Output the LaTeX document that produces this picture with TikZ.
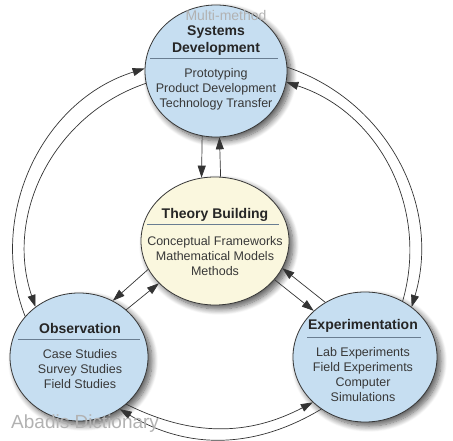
\documentclass[tikz,border=0pt]{standalone}
\usepackage{fontspec}
\setmainfont{Liberation Sans}
\usetikzlibrary{arrows.meta,shapes.geometric,shadows.blur}
\definecolor{cblue}{RGB}{198,222,241}
\definecolor{cyel}{RGB}{250,247,222}
\definecolor{cedge}{RGB}{55,55,55}
\definecolor{csep}{RGB}{105,125,145}
\begin{document}
\begin{tikzpicture}[x=1pt,y=1pt,
  bub/.style={ellipse, draw=cedge, line width=0.8pt, inner sep=0pt,
    blur shadow={shadow xshift=4pt,shadow yshift=-4pt,shadow blur steps=10,shadow opacity=65,shadow blur radius=6pt}},
  ttl/.style={font=\fontsize{14}{17}\selectfont\bfseries, text=black!85, align=center, inner sep=0pt},
  bdy/.style={font=\fontsize{12.5}{15}\selectfont, text=black!78, align=center, inner sep=0pt},
  sepline/.style={draw=csep, line width=0.8pt},
  con/.style={draw=black!80, line width=0.7pt, -{Triangle[length=12pt,width=8pt]}},
  wmark/.style={text=black!30, inner sep=0pt}
]
\useasboundingbox (0,0) rectangle (453,-441);

% bubbles
\node[bub, fill=cblue, minimum width=142pt, minimum height=132pt] (sys) at (216,-71) {};
\node[bub, fill=cyel, minimum width=148pt, minimum height=128pt] (thy) at (215,-241) {};
\node[bub, fill=cblue, minimum width=138pt, minimum height=128pt] (obs) at (79,-357) {};
\node[bub, fill=cblue, minimum width=144pt, minimum height=130pt] (exp) at (365,-357) {};

% separators
\draw[sepline] ([xshift=-66pt,yshift=13pt]sys.center) -- ([xshift=62pt,yshift=13pt]sys.center);
\draw[sepline] ([xshift=-68pt,yshift=17pt]thy.center) -- ([xshift=64pt,yshift=17pt]thy.center);
\draw[sepline] ([xshift=-61pt,yshift=18pt]obs.center) -- ([xshift=61pt,yshift=18pt]obs.center);
\draw[sepline] ([xshift=-58pt,yshift=20pt]exp.center) -- ([xshift=56pt,yshift=20pt]exp.center);

% texts
\node[ttl] (sysT) at (216,-40.5) {Systems\\Development};
\node[bdy] (sysB) at (216,-89.5) {Prototyping\\Product Development\\Technology Transfer};
\node[ttl] (thyT) at (215,-215) {Theory Building};
\node[bdy] (thyB) at (215,-256) {Conceptual Frameworks\\Mathematical Models\\Methods};
\node[ttl] (obsT) at (80,-328) {Observation};
\node[bdy] (obsB) at (80,-369) {Case Studies\\Survey Studies\\Field Studies};
\node[ttl] (expT) at (363,-326) {Experimentation};
\node[bdy] (expB) at (363,-375) {Lab Experiments\\Field Experiments\\Computer\\Simulations};

% outer ring connectors
\draw[con] (obs.143) to[bend left=47] (sys.178);
\draw[con] (sys.190) to[bend right=45] (obs.131);
\draw[con] (sys.3) to[bend left=44] (exp.47);
\draw[con] (exp.56) to[bend right=44] (sys.351);
\draw[con] (obs.315) to[bend right=27] (exp.221);
\draw[con] (exp.230) to[bend left=31] (obs.308);

% inner connectors
\draw[con] (sys.258) -- (thy.102);
\draw[con] (thy.85.5) -- (sys.273.5);
\draw[con] (thy.203) -- (obs.59.5);
\draw[con] (obs.45.5) -- (thy.217);
\draw[con] (exp.126) -- (thy.338);
\draw[con] (thy.327) -- (exp.138);

% watermarks
\node[wmark, font=\fontsize{14}{14}\selectfont] (wm1) at (226,-15) {Multi-method};
\node[wmark, font=\fontsize{19}{19}\selectfont, anchor=west] (wm2) at (11,-424) {Abadis Dictionary};
\end{tikzpicture}
\end{document}
